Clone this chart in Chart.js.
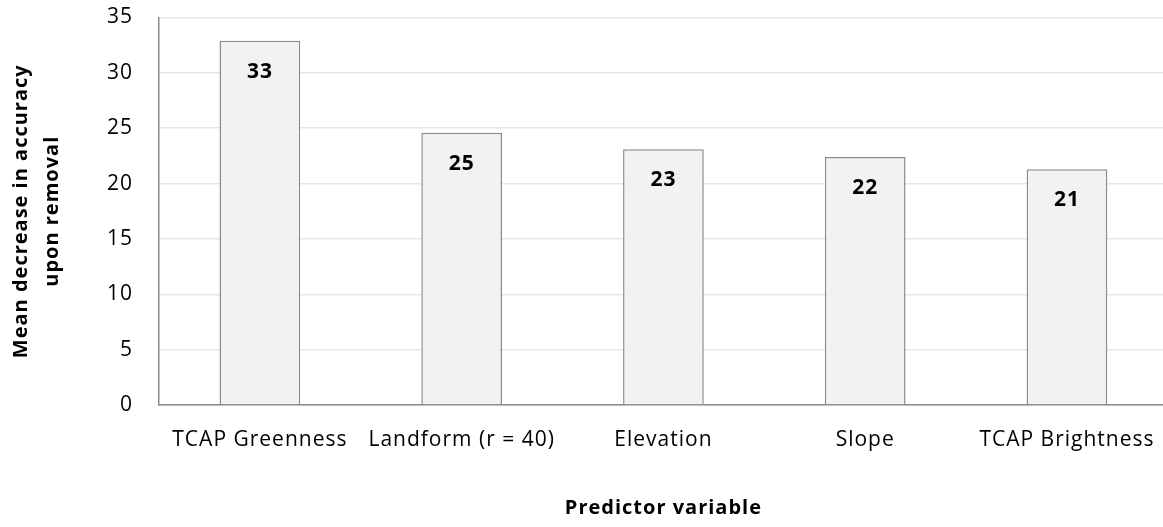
<!DOCTYPE html>
<html>
<head>
<meta charset="utf-8">
<script src="https://cdn.jsdelivr.net/npm/chart.js@4/dist/chart.umd.min.js"></script>
<style>
  html, body { margin: 0; padding: 0; background: #ffffff; overflow: hidden; }
  #wrap { position: relative; width: 1169px; height: 527px; }
</style>
</head>
<body>
<div id="wrap"><canvas id="chart" width="1169" height="527"></canvas></div>
<script>
// Predictor importance (mean decrease in accuracy when the variable is removed)
const predictors = ['TCAP Greenness', 'Landform (r = 40)', 'Elevation', 'Slope', 'TCAP Brightness'];
const meanDecrease = [32.9, 24.6, 23.1, 22.4, 21.3];
const yTicks = [0, 5, 10, 15, 20, 25, 30, 35];

const FONT = '"Open Sans", Lato, sans-serif';

// Slightly open tracking for all chart text
const textTracking = {
  id: 'textTracking',
  beforeDraw(chart) { chart.ctx.letterSpacing = '1px'; }
};

// Writes the rounded value just inside the top of each bar
const barValueLabels = {
  id: 'barValueLabels',
  afterDatasetsDraw(chart) {
    const ctx = chart.ctx;
    const meta = chart.getDatasetMeta(0);
    ctx.save();
    ctx.font = 'bold 21px ' + FONT;
    ctx.fillStyle = '#000000';
    ctx.textAlign = 'center';
    ctx.textBaseline = 'middle';
    meta.data.forEach((bar, i) => {
      ctx.fillText(String(Math.round(meanDecrease[i])), bar.x, bar.y + 31);
    });
    ctx.restore();
  }
};

new Chart(document.getElementById('chart'), {
  type: 'bar',
  data: {
    labels: predictors,
    datasets: [{
      data: meanDecrease,
      backgroundColor: '#f2f2f2',
      borderColor: '#8c8c8c',
      borderWidth: 1.5,
      barPercentage: 0.4,
      categoryPercentage: 1.0
    }]
  },
  options: {
    responsive: false,
    animation: false,
    layout: { padding: { top: 0, right: 0, bottom: 0, left: 0 } },
    plugins: { legend: { display: false }, tooltip: { enabled: false } },
    scales: {
      x: {
        offset: true,
        grid: { display: false, drawTicks: false },
        border: { display: true, color: '#8c8c8c', width: 1.5 },
        ticks: { color: '#000000', font: { family: FONT, size: 21 }, padding: 22, maxRotation: 0, autoSkip: false },
        title: {
          display: true,
          text: 'Predictor variable',
          color: '#000000',
          font: { family: FONT, size: 20, weight: 'bold' },
          padding: { top: 0, bottom: 7 }
        },
        afterFit(scale) { scale.height = 122; }
      },
      y: {
        min: 0,
        max: 35,
        afterBuildTicks(scale) { scale.ticks = yTicks.map(v => ({ value: v })); },
        grid: { color: '#e6e6e6', lineWidth: 1.5, drawTicks: false },
        border: { display: true, color: '#8c8c8c', width: 1.5 },
        ticks: { color: '#000000', font: { family: FONT, size: 21 }, padding: 26 },
        title: {
          display: true,
          text: ['Mean decrease in accuracy', 'upon removal'],
          color: '#000000',
          font: { family: FONT, size: 20, weight: 'bold', lineHeight: 1.55 },
          padding: { top: 6, bottom: 0 }
        },
        afterFit(scale) {
          scale.width = 159;
          scale.paddingTop = 17.5;
          scale.paddingBottom = 0;
        }
      }
    }
  },
  plugins: [textTracking, barValueLabels]
});
</script>
</body>
</html>
